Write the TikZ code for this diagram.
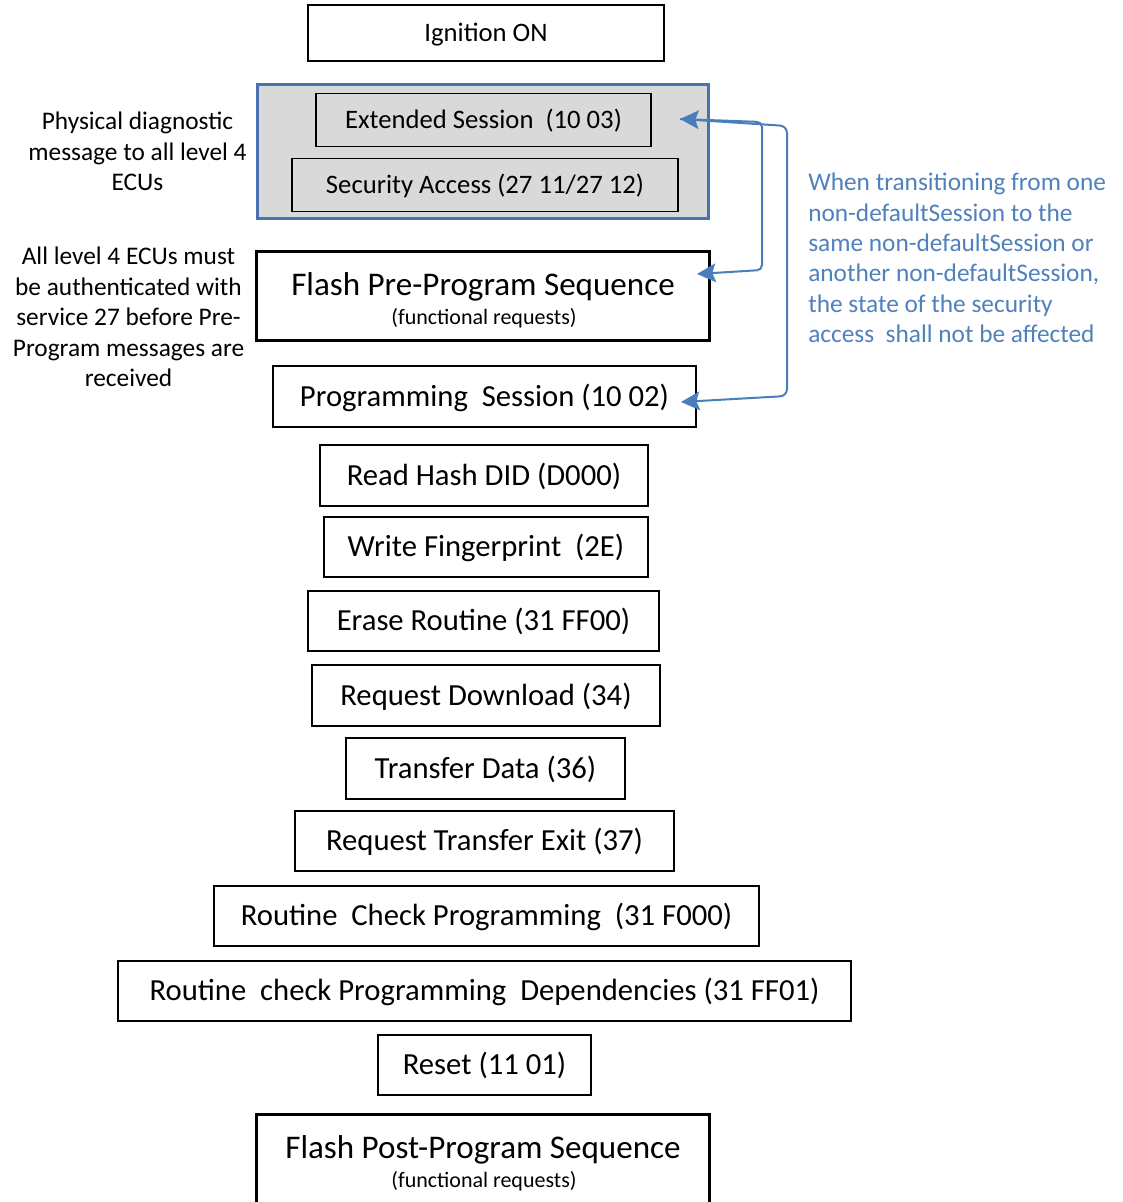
\documentclass[tikz,border=0pt]{standalone}
\usepackage{fontspec}
\setmainfont{Carlito}
\usetikzlibrary{arrows.meta,calc}
\newdimen\pxu \pxu=0.75pt
\definecolor{boxblue}{HTML}{4A72B0}
\definecolor{notebl}{HTML}{4F81BD}
\definecolor{arrowbl}{HTML}{4A7EBB}
\definecolor{greyfill}{HTML}{D9D9D9}
\begin{document}
\begin{tikzpicture}[x=0.75pt,y=-0.75pt,
  >={Stealth[length=14pt,width=14pt,inset=2.5pt]},
  stepbox/.style={draw=black, line width=1.5\pxu, inner sep=0pt, align=center},
  bigtxt/.style={font=\fontsize{23}{27}\selectfont, text height=14.5pt, text depth=0pt},
  smalltxt/.style={font=\fontsize{20}{24}\selectfont, text height=12.6pt, text depth=0pt},
  flashbox/.style={draw=black, line width=3\pxu, inner sep=0pt, minimum width=453\pxu},
  flashtitle/.style={font=\fontsize{24.8}{28}\selectfont, anchor=base, inner sep=0pt},
  flashsub/.style={font=\fontsize{16.5}{19}\selectfont, anchor=base, inner sep=0pt},
  note/.style={font=\fontsize{19}{22.8}\selectfont, inner sep=0pt},
  conn/.style={draw=arrowbl, line width=2\pxu}
]
\clip (0,0) rectangle (1122,1202);
\fill[white] (0,0) rectangle (1122,1202);

% top
\node[stepbox, smalltxt, minimum width=356\pxu, minimum height=56\pxu] (ign) at (486,33) {Ignition ON};

\node[draw=boxblue, fill=greyfill, line width=3\pxu, inner sep=0pt, minimum width=451\pxu, minimum height=133\pxu] (grp) at (482.5,151.5) {};
\node[stepbox, smalltxt, minimum width=335\pxu, minimum height=53\pxu] (ext) at (483.5,120) {Extended Session\ \ (10 03)};
\node[stepbox, smalltxt, minimum width=386\pxu, minimum height=53\pxu] (sec) at (485,185) {Security Access (27 11/27 12)};

\node[flashbox, minimum height=89\pxu] (flash) at (482.5,295.5) {};
\node[flashtitle] (flashT) at (483,295) {Flash Pre-Program Sequence};
\node[flashsub] (flashS) at (484,324) {(functional requests)};

\node[stepbox, bigtxt, minimum width=423\pxu, minimum height=61\pxu] (prog) at (484.5,396.5) {Programming\ \ Session (10 02)};
\node[stepbox, bigtxt, minimum width=328\pxu, minimum height=61\pxu] (hash) at (484,475.5) {Read Hash DID (D000)};
\node[stepbox, bigtxt, minimum width=324\pxu, minimum height=60\pxu] (fp) at (486,547) {Write Fingerprint\ \ (2E)};
\node[stepbox, bigtxt, minimum width=351\pxu, minimum height=60\pxu] (erase) at (483.5,621) {Erase Routine (31 FF00)};
\node[stepbox, bigtxt, minimum width=348\pxu, minimum height=61\pxu] (rd) at (486,695.5) {Request Download (34)};
\node[stepbox, bigtxt, minimum width=279\pxu, minimum height=61\pxu] (td) at (485.5,768.5) {Transfer Data (36)};
\node[stepbox, bigtxt, minimum width=379\pxu, minimum height=60\pxu] (rte) at (484.5,841) {Request Transfer Exit (37)};
\node[stepbox, bigtxt, minimum width=545\pxu, minimum height=60\pxu] (rcp) at (486.5,916) {Routine\ \ Check Programming\ \ (31 F000)};
\node[stepbox, bigtxt, minimum width=733\pxu, minimum height=60\pxu] (rcpd) at (484.5,991) {Routine\ \ check Programming\ \ Dependencies (31 FF01)};
\node[stepbox, bigtxt, minimum width=213\pxu, minimum height=60\pxu] (reset) at (484.5,1065) {Reset (11 01)};

\node[flashbox, minimum height=95\pxu] (post) at (482.5,1161.5) {};
\node[flashtitle] (postT) at (483,1158) {Flash Post-Program Sequence};
\node[flashsub] (postS) at (484,1187) {(functional requests)};

% notes
\node[note, align=center] (noteA) at (137.5,151.5) {Physical diagnostic\\message to all level 4\\ECUs};
\node[note, align=center] (noteB) at (128.5,317) {All level 4 ECUs must\\be authenticated with\\service 27 before Pre-\\Program messages are\\received};
\node[note, align=left, anchor=west, text=notebl] (noteC) at (808,258) {When transitioning from one\\non-defaultSession to the\\same non-defaultSession or\\another non-defaultSession,\\the state of the security\\access\ \ shall not be affected};

% connectors
\coordinate (extIn) at (680,119);
\coordinate (flashIn) at (697,274);
\coordinate (progIn) at (681,402);
\draw[conn, rounded corners=5\pxu, <->] (extIn) -- (762,122) -- (762,270) -- (flashIn);
\draw[conn, rounded corners=7\pxu, ->] (extIn) -- (787,126) -- (787,396) -- (progIn);
\end{tikzpicture}
\end{document}
